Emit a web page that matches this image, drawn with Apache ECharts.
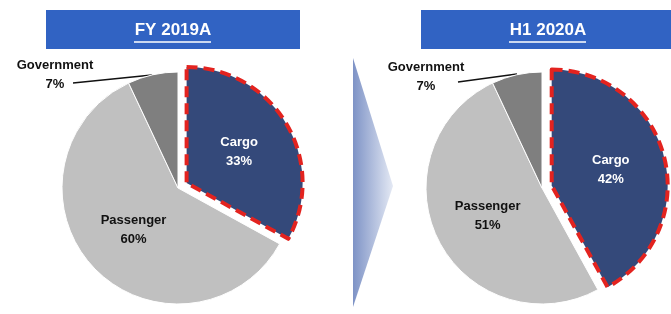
<!DOCTYPE html>
<html>
<head>
<meta charset="utf-8">
<script src="https://cdn.jsdelivr.net/npm/echarts@6/dist/echarts.min.js"></script>
<style>
html,body{margin:0;padding:0;background:#fff;}
#chart{width:671px;height:314px;}
</style>
</head>
<body>
<div id="chart"></div>
<script>
// segments in drawing order, clockwise from 12 o'clock
let segments = ['Cargo', 'Passenger', 'Government'];
let fy2019 = [33, 60, 7];
let h12020 = [42, 51, 7];
let titles = ['FY 2019A', 'H1 2020A'];

let segColors = ['#34497a', '#c0c0c0', '#7f7f7f'];
let labelColors = ['#ffffff', '#111111', '#111111'];
let fontName = 'Liberation Sans, Arial, sans-serif';

function pieData(vals){
    let out = [];
    for(let i=0;i<segments.length;i++){
        let item = {
            name: segments[i],
            value: vals[i],
            itemStyle: {color: segColors[i], borderColor: '#ffffff', borderWidth: 1},
            label: {color: labelColors[i]}
        };
        if(i == 0){
            item.selected = true;
            item.itemStyle.borderColor = '#e3231f';
            item.itemStyle.borderWidth = 4;
            item.itemStyle.borderType = [11, 6];
        }
        if(i == 2){
            item.label.position = 'outside';
            item.labelLine = {show: true, lineStyle: {color: '#111', width: 1.5}};
        }
        out.push(item);
    }
    return out;
}

function pieSeries(vals, cx, gov){
    return {
        type: 'pie',
        center: [cx, 188],
        radius: 116,
        startAngle: 90,
        clockwise: true,
        selectedMode: 'single',
        selectedOffset: 10,
        animation: false,
        label: {
            position: 'inside',
            formatter: '{b}\n{d}%',
            fontFamily: fontName,
            fontWeight: 'bold',
            fontSize: 13,
            lineHeight: 19
        },
        labelLine: {show: false},
        labelLayout: function(params){
            if(params.dataIndex == 2){
                return {
                    x: gov[0], y: gov[1], align: 'center', verticalAlign: 'middle',
                    labelLinePoints: [[gov[2], gov[3]], [(gov[2] + gov[4]) / 2, (gov[3] + gov[5]) / 2], [gov[4], gov[5]]]
                };
            }
        },
        emphasis: {disabled: true},
        select: {itemStyle: {}},
        data: pieData(vals)
    };
}

function header(x, text){
    return [
        {type: 'rect', shape: {x: x, y: 10, width: 254, height: 39}, style: {fill: '#3163c3'}},
        {type: 'text', x: x + 127, y: 30, style: {text: text, fill: '#fff', font: 'bold 17px ' + fontName, align: 'center', verticalAlign: 'middle'}},
        {type: 'line', shape: {x1: x + 88, y1: 42, x2: x + 165, y2: 42}, style: {stroke: '#fff', lineWidth: 1.5}}
    ];
}

let chart = echarts.init(document.getElementById('chart'));
chart.setOption({
    backgroundColor: '#fff',
    graphic: header(46, titles[0]).concat(header(421, titles[1])).concat([
        {
            type: 'polygon',
            shape: {points: [[353, 58], [393, 186], [353, 307]]},
            style: {
                fill: new echarts.graphic.LinearGradient(0, 0, 1, 0, [
                    {offset: 0, color: '#7e93c6'},
                    {offset: 1, color: '#e4e9f4'}
                ])
            }
        }
    ]),
    series: [
        // label centre x, y, then leader line start and end
        pieSeries(fy2019, 178, [55, 75, 73, 83, 152, 75]),
        pieSeries(h12020, 542, [426, 77, 458, 82, 517, 74])
    ]
});
</script>
</body>
</html>
